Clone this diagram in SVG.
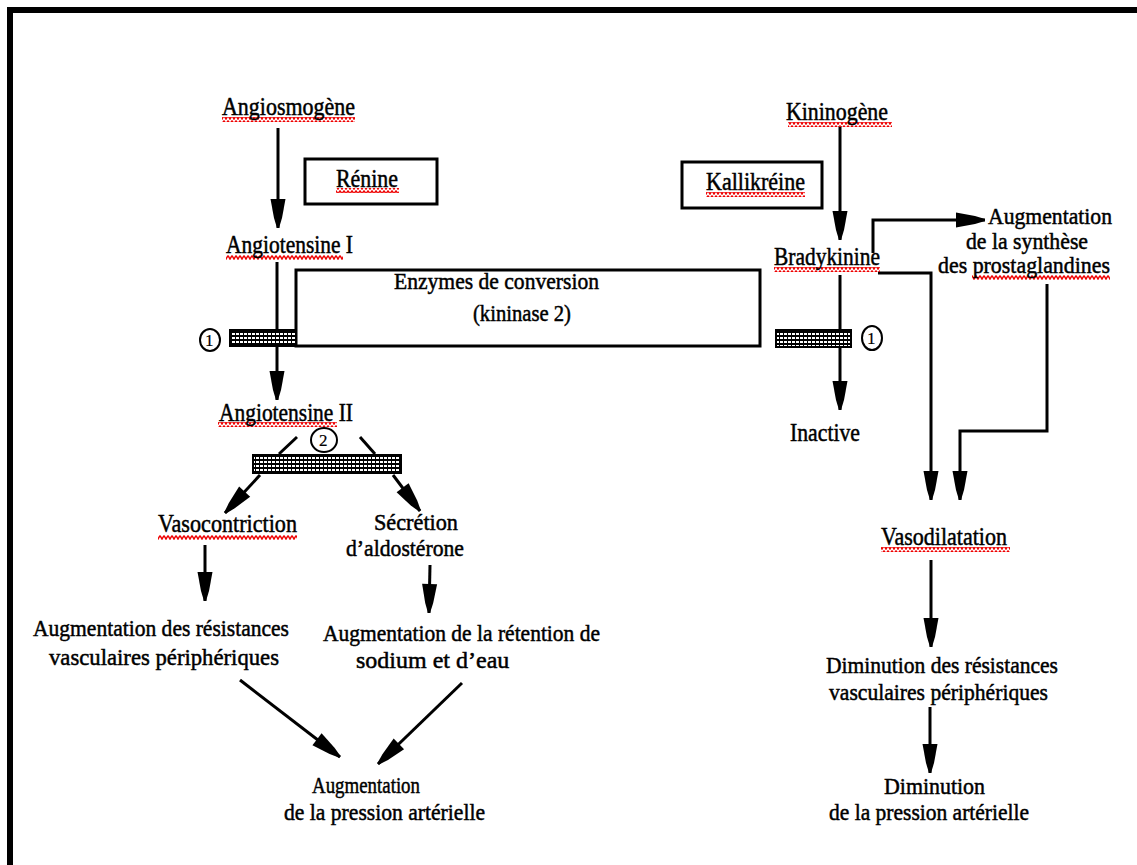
<svg xmlns="http://www.w3.org/2000/svg" width="1137" height="865" viewBox="0 0 1137 865">
<style>
text{font-family:"Liberation Serif","Times New Roman",serif;font-size:26px;fill:#000;stroke:#000;stroke-width:0.5}
.sm{font-size:24px}
.ln{fill:none;stroke:#000;stroke-width:3}
.box{fill:#fff;stroke:#000;stroke-width:3}
.hatch{fill:url(#dots);stroke:#000;stroke-width:2}
.wave{fill:url(#wv)}
.circ{fill:none;stroke:#000;stroke-width:2}
.num{font-size:17px;stroke-width:0.2}
</style>
<defs>
<marker id="ah" markerUnits="userSpaceOnUse" orient="auto" refX="0" refY="0" overflow="visible">
<path d="M-29,-7.5 L-29,7.5 L-10,4 L0,1 L0,-1 L-10,-4 Z" fill="#000"/>
</marker>
<pattern id="dots" width="4" height="4" patternUnits="userSpaceOnUse">
<rect width="4" height="4" fill="#000"/>
<rect x="0" y="1" width="3" height="2" fill="#fff"/>
</pattern>
<pattern id="wv" width="4" height="5" patternUnits="userSpaceOnUse">
<path d="M0,0.5 L2,4 L4,0.5" fill="none" stroke="#e00" stroke-width="1.5"/>
</pattern>
</defs>
<rect width="1137" height="865" fill="#fff"/>
<g id="frame">
<rect x="7" y="7" width="1130" height="6" fill="#000"/>
<rect x="7" y="7" width="6" height="858" fill="#000"/>
</g>
<g id="connectors">
<line class="ln" x1="278" y1="128" x2="278" y2="228" marker-end="url(#ah)"/>
<line class="ln" x1="277" y1="262" x2="277" y2="400" marker-end="url(#ah)"/>
<line class="ln" x1="297" y1="437" x2="279" y2="454"/>
<line class="ln" x1="360" y1="437" x2="375" y2="454"/>
<line class="ln" x1="260" y1="475" x2="225" y2="513" marker-end="url(#ah)"/>
<line class="ln" x1="393" y1="475" x2="420" y2="511" marker-end="url(#ah)"/>
<line class="ln" x1="205" y1="545" x2="205" y2="601" marker-end="url(#ah)"/>
<line class="ln" x1="430" y1="565" x2="429" y2="613" marker-end="url(#ah)"/>
<line class="ln" x1="240" y1="680" x2="340" y2="757" marker-end="url(#ah)"/>
<line class="ln" x1="462" y1="683" x2="378" y2="764" marker-end="url(#ah)"/>
<line class="ln" x1="840" y1="126" x2="840" y2="240" marker-end="url(#ah)"/>
<polyline class="ln" points="873,253 873,220 985,220" marker-end="url(#ah)"/>
<polyline class="ln" points="878,273 931,273 931,500" marker-end="url(#ah)"/>
<polyline class="ln" points="1047,284 1047,431 960,431 960,500" marker-end="url(#ah)"/>
<line class="ln" x1="840" y1="275" x2="840" y2="410" marker-end="url(#ah)"/>
<line class="ln" x1="931" y1="560" x2="931" y2="647" marker-end="url(#ah)"/>
<line class="ln" x1="930" y1="707" x2="930" y2="773" marker-end="url(#ah)"/>
</g>
<g id="enzymes">
<rect class="box" x="296" y="270" width="464" height="76" fill="none"/>
<text class="sm" x="394" y="289" textLength="205" lengthAdjust="spacingAndGlyphs">Enzymes de conversion</text>
<text class="sm" x="473" y="321" textLength="98" lengthAdjust="spacingAndGlyphs">(kininase 2)</text>
</g>
<g id="inhib1-left">
<rect class="hatch" x="230" y="330" width="66" height="16"/>
<ellipse class="circ" cx="210" cy="340" rx="10" ry="11"/>
<text class="num" x="205" y="346">1</text>
</g>
<g id="inhib1-right">
<rect class="hatch" x="776" y="330" width="75" height="17"/>
<ellipse class="circ" cx="872" cy="338" rx="10" ry="12"/>
<text class="num" x="867" y="344">1</text>
</g>
<g id="inhib2">
<rect class="hatch" x="253" y="455" width="148" height="18"/>
<ellipse class="circ" cx="324" cy="440" rx="13" ry="12"/>
<text class="num" x="319" y="446">2</text>
</g>
<g id="angiosmogene">
<rect class="wave" x="222" y="117" width="133" height="5"/>
<text x="222" y="115" textLength="133" lengthAdjust="spacingAndGlyphs">Angiosmogène</text>
</g>
<g id="renine">
<rect class="box" x="305" y="159" width="132" height="45"/>
<rect class="wave" x="336" y="188" width="63" height="5"/>
<text x="336" y="187" textLength="62" lengthAdjust="spacingAndGlyphs">Rénine</text>
</g>
<g id="angiotensine1">
<rect class="wave" x="226" y="255" width="117" height="5"/>
<text x="226" y="253" textLength="127" lengthAdjust="spacingAndGlyphs">Angiotensine I</text>
</g>
<g id="angiotensine2">
<rect class="wave" x="218" y="422" width="119" height="5"/>
<text x="219" y="421" textLength="134" lengthAdjust="spacingAndGlyphs">Angiotensine II</text>
</g>
<g id="vasoconstriction">
<rect class="wave" x="158" y="535" width="139" height="5"/>
<text x="158" y="532" textLength="139" lengthAdjust="spacingAndGlyphs">Vasocontriction</text>
</g>
<g id="aldosterone">
<text class="sm" x="374" y="530" textLength="84" lengthAdjust="spacingAndGlyphs">Sécrétion</text>
<text class="sm" x="346" y="556" textLength="118" lengthAdjust="spacingAndGlyphs">d’aldostérone</text>
</g>
<g id="resistances-aug">
<text class="sm" x="33" y="636" textLength="256" lengthAdjust="spacingAndGlyphs">Augmentation des résistances</text>
<text class="sm" x="49" y="665" textLength="230" lengthAdjust="spacingAndGlyphs">vasculaires périphériques</text>
</g>
<g id="retention">
<text class="sm" x="323" y="641" textLength="277" lengthAdjust="spacingAndGlyphs">Augmentation de la rétention de</text>
<text class="sm" x="356" y="668" font-family="Liberation Serif, serif">sodium  et d’eau</text>
</g>
<g id="pression-aug">
<text class="sm" x="312" y="793" textLength="108" lengthAdjust="spacingAndGlyphs">Augmentation</text>
<text class="sm" x="284" y="820" textLength="201" lengthAdjust="spacingAndGlyphs">de la pression artérielle</text>
</g>
<g id="kininogene">
<rect class="wave" x="788" y="122" width="104" height="5"/>
<text x="786" y="120" textLength="102" lengthAdjust="spacingAndGlyphs">Kininogène</text>
</g>
<g id="kallikreine">
<rect class="box" x="682" y="162" width="140" height="46"/>
<rect class="wave" x="706" y="192" width="99" height="5"/>
<text x="706" y="190" textLength="99" lengthAdjust="spacingAndGlyphs">Kallikréine</text>
</g>
<g id="bradykinine">
<rect class="wave" x="774" y="267" width="106" height="5"/>
<text x="774" y="265" textLength="106" lengthAdjust="spacingAndGlyphs">Bradykinine</text>
</g>
<g id="prostaglandines">
<text class="sm" x="988" y="224" textLength="124" lengthAdjust="spacingAndGlyphs">Augmentation</text>
<text class="sm" x="966" y="249" textLength="122" lengthAdjust="spacingAndGlyphs">de la synthèse</text>
<rect class="wave" x="972" y="275" width="138" height="5"/>
<text class="sm" x="938" y="273" textLength="172" lengthAdjust="spacingAndGlyphs">des prostaglandines</text>
</g>
<g id="inactive">
<text x="790" y="441" textLength="70" lengthAdjust="spacingAndGlyphs">Inactive</text>
</g>
<g id="vasodilatation">
<rect class="wave" x="881" y="547" width="129" height="5"/>
<text x="881" y="545" textLength="126" lengthAdjust="spacingAndGlyphs">Vasodilatation</text>
</g>
<g id="resistances-dim">
<text class="sm" x="826" y="673" textLength="232" lengthAdjust="spacingAndGlyphs">Diminution des résistances</text>
<text class="sm" x="829" y="700" textLength="219" lengthAdjust="spacingAndGlyphs">vasculaires périphériques</text>
</g>
<g id="pression-dim">
<text class="sm" x="884" y="794" textLength="101" lengthAdjust="spacingAndGlyphs">Diminution</text>
<text class="sm" x="829" y="820" textLength="200" lengthAdjust="spacingAndGlyphs">de la pression artérielle</text>
</g>
</svg>
